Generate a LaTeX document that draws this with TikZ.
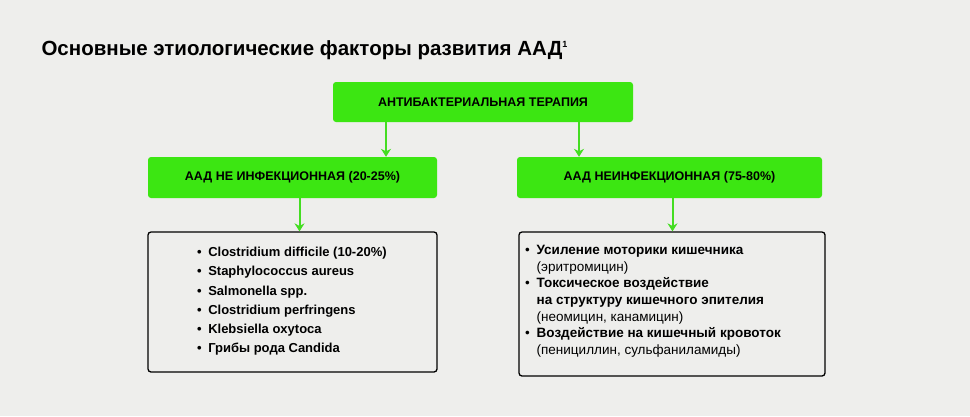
\documentclass[tikz,border=0pt]{standalone}
\usepackage{fontspec}
\setmainfont{Liberation Sans}
\usetikzlibrary{positioning,arrows.meta}
\definecolor{bg1}{HTML}{EEEEEC}
\definecolor{green1}{HTML}{3CE612}
\definecolor{arrow1}{HTML}{44DD22}
\begin{document}
\begin{tikzpicture}[x=1pt,y=-1pt,
    >=Stealth,
    gbox/.style={fill=green1, rounded corners=3pt, font=\bfseries\fontsize{12.5}{14}\selectfont,
                 inner sep=0pt},
    wbox/.style={draw, line width=1.3pt, rounded corners=3pt, inner sep=0pt},
    flow/.style={->, line width=2pt, color=arrow1, >={Stealth[length=8pt,width=10pt]}},
    lst/.style={anchor=north west, align=left, inner sep=0pt,
                font=\bfseries\fontsize{13}{19.2}\selectfont},
]
\fill[bg1] (0,0) rectangle (970,416);

% title
\node[anchor=west, font=\bfseries\fontsize{20.5}{22}\selectfont] (title) at (38,50)
    {Основные этиологические факторы развития ААД\textsuperscript{\fontsize{9}{10}\selectfont 1}};

% green boxes
\node[gbox, minimum width=300pt, minimum height=40pt] (abt) at (483,102) {АНТИБАКТЕРИАЛЬНАЯ ТЕРАПИЯ};
\node[gbox, minimum width=289pt, minimum height=41pt] (inf) at (292.5,177.5) {ААД НЕ ИНФЕКЦИОННАЯ (20-25\%)};
\node[gbox, minimum width=305pt, minimum height=41pt] (ninf) at (669.5,177.5) {ААД НЕИНФЕКЦИОННАЯ (75-80\%)};

% list boxes
\node[wbox, minimum width=289pt, minimum height=140pt] (infl) at (292.5,302) {};
\node[wbox, minimum width=306pt, minimum height=144pt] (ninfl) at (672,304) {};

\node[lst] (infx) at (197,247) {%
  \textbullet\enspace Clostridium difficile (10-20\%)\\
  \textbullet\enspace Staphylococcus aureus\\
  \textbullet\enspace Salmonella spp.\\
  \textbullet\enspace Clostridium perfringens\\
  \textbullet\enspace Klebsiella oxytoca\\
  \textbullet\enspace Грибы рода Candida};

\node[lst, font=\fontsize{13.5}{16.7}\selectfont] (ninfx) at (525,245) {%
  \textbullet\enspace\textbf{Усиление моторики кишечника}\\
  \phantom{\textbullet\enspace}(эритромицин)\\
  \textbullet\enspace\textbf{Токсическое воздействие}\\
  \phantom{\textbullet\enspace}\textbf{на структуру кишечного эпителия}\\
  \phantom{\textbullet\enspace}(неомицин, канамицин)\\
  \textbullet\enspace\textbf{Воздействие на кишечный кровоток}\\
  \phantom{\textbullet\enspace}(пенициллин, сульфаниламиды)};

% arrows
\draw[flow] (abt.south -| inf.south) ++(93.5,0) coordinate (a1) -- (a1 |- inf.north);
\draw[flow] ([xshift=96pt]abt.south) coordinate (a2) -- (a2 |- ninf.north);
\draw[flow] ([xshift=7pt]inf.south) coordinate (a3) -- (a3 |- infl.north);
\draw[flow] ([xshift=3pt]ninf.south) coordinate (a4) -- (a4 |- ninfl.north);
\end{tikzpicture}
\end{document}
